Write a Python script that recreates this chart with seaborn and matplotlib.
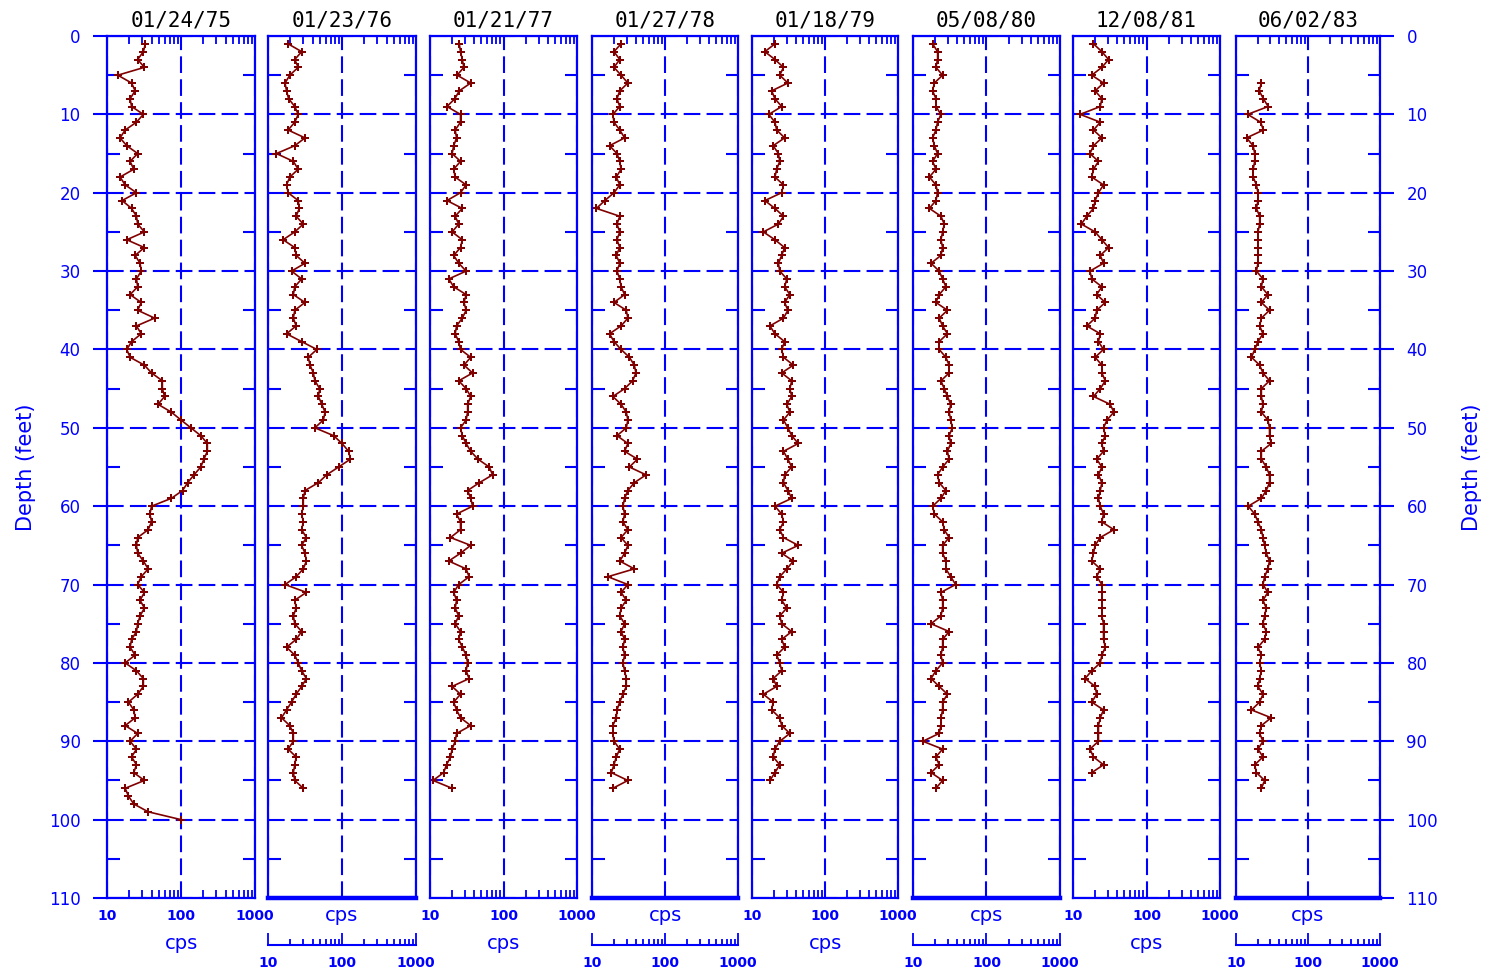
import numpy as np
import pandas as pd
import matplotlib
matplotlib.use("Agg")
import matplotlib.pyplot as plt
import seaborn as sns
from matplotlib.ticker import FixedLocator, LogLocator, NullFormatter, MultipleLocator, FuncFormatter

sns.set_theme(style="white")
plt.rcParams["font.family"] = ["DejaVu Sans"]

# Gamma log runs: survey date, first logged depth (ft), counts per second at 1-ft steps
log_dates = ["01/24/75", "01/23/76", "01/21/77", "01/27/78",
             "01/18/79", "05/08/80", "12/08/81", "06/02/83"]
log_tops = [1, 1, 1, 1, 1, 1, 1, 6]

cps_75 = [33, 31, 26, 32, 14, 21.5, 24, 20.5, 21.5, 31,
          25, 17.6, 15, 18.5, 26, 20.5, 23, 15, 17.6, 25,
          16, 21.5, 25, 26, 32, 18.5, 32, 24, 28, 29,
          25, 26, 20.5, 29, 26, 44, 25, 29, 21.5, 18.5,
          20.5, 32, 40, 56, 56, 60, 49, 74, 100, 136,
          185, 227, 227, 204, 185, 150, 123, 105, 74, 40,
          38, 40, 36, 26, 25, 26, 31, 36, 29, 26,
          32, 28, 32, 28, 26, 25, 21.5, 20.5, 24, 17.6,
          25, 31, 31, 26, 19.5, 23, 24, 17.6, 26, 20.5,
          25, 21.5, 25, 23, 32, 17.6, 19.5, 23, 36, 100]

cps_76 = [18.7, 28.5, 23, 25.6, 19.7, 17, 17.8, 19, 23, 25.6,
          23, 18.7, 31.6, 23, 13, 22, 25.6, 19.7, 17.8, 18.7,
          25.6, 26.5, 24, 30, 23, 16, 23, 24, 31.6, 20.8,
          28.5, 23, 22, 31.6, 23, 22, 24, 17.8, 28.5, 45.7,
          35, 37, 41, 43, 50, 48, 53.4, 59, 56, 43,
          77, 100, 123, 130, 90, 62, 48, 31.6, 30, 30,
          28.5, 30, 28.5, 33, 28.5, 31.6, 33, 30, 24, 17,
          33, 23, 24, 22, 23, 28.5, 24, 17.8, 23, 25.6,
          28.5, 33, 28.5, 24, 20.8, 17.8, 15.2, 19.7, 22, 22,
          18.7, 24, 23, 22, 23, 30]

cps_77 = [25, 26, 27.5, 28.9, 23.4, 35.8, 25, 21.8, 17, 26,
          26, 22, 23, 21, 20, 26, 21, 22, 31, 26,
          17, 27.5, 22, 24.6, 20, 27.5, 26, 21, 24.6, 31,
          18, 21, 31, 29, 31, 27.5, 23, 22, 24.6, 26,
          35.8, 29, 38, 24.6, 31, 35.8, 32.5, 32.5, 31, 26,
          27.5, 31, 35.8, 45, 64, 71, 47, 32.5, 35.8, 38,
          23, 26, 26, 19, 35.8, 26, 18, 31, 34, 24.6,
          21, 23, 22, 24.6, 22, 26, 24.6, 27.5, 31, 32.5,
          31, 34, 20, 26, 21, 23, 26, 35.8, 23, 22,
          20, 19, 16.8, 15.3, 11, 20]

cps_78 = [25, 20, 24, 20, 25, 31, 24, 22, 24, 19.3,
          20, 24, 28, 17.4, 22, 24, 25, 21.5, 24, 20,
          15, 11.5, 24, 22, 24, 22, 24, 21.5, 24, 22,
          24, 25, 28, 20, 29.5, 31, 25, 17.4, 20, 25,
          32.5, 38, 40, 36, 28, 19.3, 25, 29.5, 31, 29.5,
          22, 31, 28, 42, 32.5, 55, 38, 31, 28, 26.5,
          28, 26.5, 31, 25, 31, 28, 24, 38, 16.5, 31,
          25, 29.5, 25, 24, 28, 25, 28, 26.5, 28, 26.5,
          28, 29.5, 29.5, 26.5, 24, 22, 21.5, 19.3, 19.3, 20,
          24, 21.5, 20, 18.4, 31, 19.3]

cps_79 = [20.6, 15, 20.6, 27, 24, 31, 18.6, 20.6, 25.5, 17,
          20.6, 21.8, 28, 19.5, 23, 24, 21.8, 20.6, 27, 25.5,
          15, 20.6, 27, 23, 14.3, 20.6, 28, 25.5, 23, 24,
          30, 28, 33, 28, 31, 27, 17.6, 20.6, 28, 25.5,
          27, 36.8, 25.5, 35, 33, 35, 30, 33, 27, 31,
          35, 43, 27, 31, 35, 28, 27, 31, 35, 20.6,
          25.5, 27, 24, 27, 43, 25.5, 36.8, 30, 24, 21.8,
          27, 25.5, 30, 24, 25.5, 35, 25.5, 28, 21.8, 24,
          25.5, 19.5, 21.8, 14.3, 19.5, 18.6, 24, 25.5, 33, 24,
          20.6, 19.5, 24, 20.6, 17.6]

cps_80 = [18.5, 21.6, 21.6, 20.5, 25.3, 19.5, 18.5, 20.5, 20.5, 24,
          21.6, 20.5, 18.5, 19.5, 21.6, 18.5, 20.5, 16.7, 20.5, 21.6,
          20.5, 16.7, 24, 26.6, 25.3, 24, 25.3, 24, 17.6, 22.7,
          25.3, 28, 22.7, 20.5, 29.4, 22.7, 25.3, 29.4, 22.7, 22.7,
          28, 31, 31, 24, 26.6, 29.4, 32.6, 31, 32.6, 34.3,
          31, 32.6, 29.4, 31, 25.3, 21.6, 22.7, 28, 24, 18.5,
          19.5, 25.3, 26.6, 31, 25.3, 25.3, 28, 28, 32.6, 38,
          24, 25.3, 25.3, 24, 17.6, 31, 25.3, 25.3, 24, 25.3,
          20.5, 17.6, 22.7, 29.4, 25.3, 25.3, 24, 24, 22.7, 13.6,
          25.3, 20.5, 22.7, 17.6, 25.3, 20.5]

cps_81 = [19, 24.7, 30.5, 24.7, 18, 26, 20, 24.7, 23.5, 12.5,
          23.5, 19, 24.7, 19, 17, 22.2, 19, 18, 26, 22.2,
          20, 19, 15.4, 13, 20, 24.7, 30.5, 23.5, 26, 17,
          18, 24.7, 21, 27.5, 21, 20, 15.4, 23.5, 22.2, 26,
          20, 24.7, 24.7, 27.5, 23.5, 19, 32, 36, 29, 26,
          27.5, 24.7, 26, 21, 24.7, 22.2, 24.7, 23.5, 22.2, 23.5,
          26, 24.7, 36, 23.5, 20, 19, 18, 23.5, 21, 24.7,
          24.7, 24.7, 24.7, 24.7, 26, 26, 26, 27.5, 24.7, 23.5,
          18, 14.6, 20, 21, 18, 26, 23.5, 22.2, 22.2, 22.2,
          17, 19, 26, 18]

cps_83 = [22.5, 21, 24, 28, 14.5, 22, 24, 14, 17.3, 18.2,
          18.2, 17.3, 17.3, 19.2, 20.2, 20.2, 19.2, 21.3, 21.3, 20.2,
          20.2, 20.2, 20.2, 20.2, 19.2, 23.7, 22.5, 27.7, 22.5, 29.2,
          22.5, 21.3, 23.7, 20.2, 18.2, 16.4, 21.3, 23.7, 29.2, 22.5,
          22.5, 23.7, 22.5, 27.7, 29.2, 29.2, 30.8, 22.5, 22.5, 26.3,
          29.2, 29.2, 26.3, 22.5, 14.8, 18.2, 20.2, 22.5, 23.7, 25,
          26.3, 29.2, 27.7, 25, 23.7, 27.7, 23.7, 26.3, 25, 23.7,
          26.3, 25, 20.2, 22.5, 21.3, 22.5, 21.3, 20.2, 23.7, 21.3,
          16.4, 30.8, 22.5, 21.3, 23.7, 20.2, 23.7, 18.2, 19.2, 25, 22.5]

log_values = [cps_75, cps_76, cps_77, cps_78, cps_79, cps_80, cps_81, cps_83]

BLUE = "#0000ff"
TRACE = "#800000"
GRID_DASH = (0, (8, 3))

W, H = 1487, 975
fig = plt.figure(figsize=(W / 100, H / 100), dpi=100)
fig.patch.set_facecolor("white")

panel_left = [107, 268, 430, 592, 752, 913, 1073, 1236]
panel_width = [148, 148, 147, 146, 146, 147, 147, 144]
panel_top, panel_bottom = 36, 898
scale_y = 945


def log_label(v, pos):
    return f"{v:g}"


def style_log_axis(axis):
    axis.set_major_locator(FixedLocator([10, 100, 1000]))
    axis.set_minor_locator(LogLocator(base=10, subs=np.arange(2, 10)))
    axis.set_minor_formatter(NullFormatter())
    axis.set_major_formatter(FuncFormatter(log_label))


def style_cps_labels(axis_obj):
    axis_obj.set_tick_params(labelsize=10)
    for lab in axis_obj.get_ticklabels():
        lab.set_fontweight("bold")


n = len(log_values)
for i, (date, top, vals) in enumerate(zip(log_dates, log_tops, log_values)):
    rect = [panel_left[i] / W, 1 - panel_bottom / H,
            panel_width[i] / W, (panel_bottom - panel_top) / H]
    ax = fig.add_axes(rect)
    ax.set_facecolor("white")
    ax.set_xscale("log")

    df = pd.DataFrame({"cps": vals, "depth": np.arange(top, top + len(vals))})
    sns.lineplot(data=df, x="cps", y="depth", orient="y", sort=False,
                 color=TRACE, lw=1.2, marker="P", markersize=6,
                 markeredgewidth=0, ax=ax)

    ax.set_xlim(10, 1000)
    ax.set_ylim(110, 0)

    for sp in ax.spines.values():
        sp.set_color(BLUE)
        sp.set_linewidth(1.6)

    ax.grid(True, which="major", color=BLUE, lw=1.5, linestyle=GRID_DASH)
    ax.set_axisbelow(True)

    # depth axis
    ax.yaxis.set_major_locator(MultipleLocator(10))
    ax.yaxis.set_minor_locator(MultipleLocator(5))
    ax.yaxis.set_major_formatter(FuncFormatter(lambda v, p: f"{v:.0f}"))
    ax.tick_params(axis="y", which="minor", left=True, right=True,
                   direction="in", length=9, width=1.5, color=BLUE)
    ax.tick_params(axis="y", which="major", left=(i == 0), right=(i == n - 1),
                   labelleft=(i == 0), labelright=(i == n - 1),
                   direction="out", length=10, width=1.5, color=BLUE,
                   labelcolor=BLUE, labelsize=12, pad=9)
    if i == 0:
        ax.set_ylabel("Depth (feet)", color=BLUE, fontsize=15, labelpad=9)
    elif i == n - 1:
        ax.yaxis.set_label_position("right")
        ax.set_ylabel("Depth (feet)", color=BLUE, fontsize=15, labelpad=17)
    else:
        ax.set_ylabel("")

    # count-rate axis
    style_log_axis(ax.xaxis)
    ax.tick_params(axis="x", which="both", direction="in", top=True, bottom=True,
                   color=BLUE, width=1.3, labelcolor=BLUE)
    ax.tick_params(axis="x", which="minor", length=6)
    ax.tick_params(axis="x", which="major", length=0, pad=8)
    style_cps_labels(ax.xaxis)

    ax.set_title(date, color="black", fontsize=15, family="DejaVu Sans Mono", pad=7)

    if i % 2 == 0:
        ax.set_xlabel("cps", color=BLUE, fontsize=14, labelpad=8)
    else:
        ax.tick_params(axis="x", which="both", labelbottom=False)
        ax.tick_params(axis="x", which="minor", bottom=False)
        ax.spines["bottom"].set_linewidth(3.2)
        ax.set_xlabel("cps", color=BLUE, fontsize=14, labelpad=6)

        # detached count-rate scale under the panel
        sax = fig.add_axes([panel_left[i] / W, 1 - scale_y / H,
                            panel_width[i] / W, 0.5 / H])
        sax.set_xscale("log")
        sax.set_xlim(10, 1000)
        sax.set_yticks([])
        sax.patch.set_alpha(0)
        for side in ("top", "left", "right"):
            sax.spines[side].set_visible(False)
        sax.spines["bottom"].set_color(BLUE)
        sax.spines["bottom"].set_linewidth(1.5)
        style_log_axis(sax.xaxis)
        sax.tick_params(axis="x", which="both", bottom=True, top=False,
                        direction="in", color=BLUE, width=1.3,
                        labelcolor=BLUE, pad=8)
        sax.tick_params(axis="x", which="major", length=9)
        sax.tick_params(axis="x", which="minor", length=4.5)
        style_cps_labels(sax.xaxis)

fig.savefig("out.png", dpi=100, facecolor="white")
